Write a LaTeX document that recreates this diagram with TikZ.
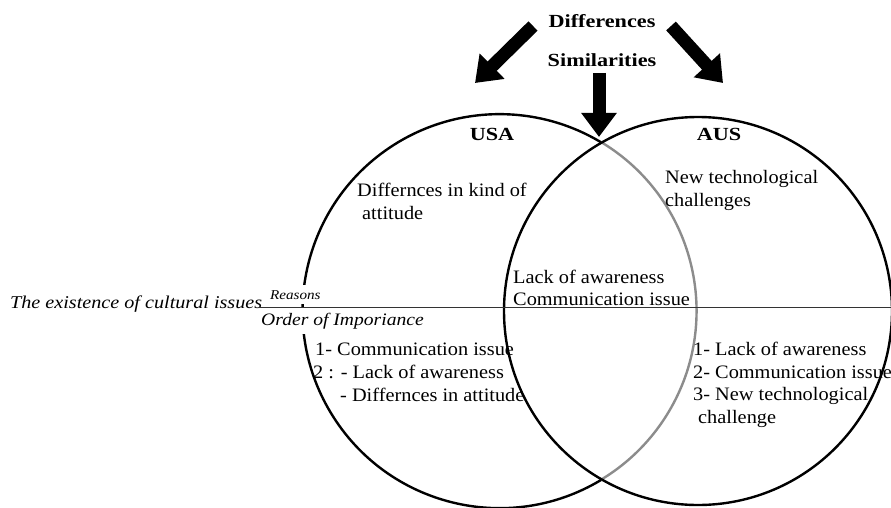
\documentclass[tikz,border=0pt]{standalone}
\usepackage{fontspec}
\setmainfont{Liberation Serif}[FakeStretch=1.07]
\newfontfamily\headfont{Liberation Serif}[FakeStretch=1.2]
\newfontfamily\notefont{Liberation Serif}[FakeStretch=1.12]
\usetikzlibrary{arrows.meta}

\begin{document}
\begin{tikzpicture}[x=1pt,y=-1pt,
  ring/.style={line width=2.4pt},
  fatarrow/.style={line width=13pt,-{Triangle[length=24pt,width=34pt]}},
  head/.style={font=\headfont\bfseries\fontsize{18.5}{20}\selectfont, inner sep=0pt, anchor=base},
  body/.style={font=\fontsize{19}{22}\selectfont, inner sep=0pt, anchor=base west},
  note/.style={font=\notefont\itshape\fontsize{18}{20}\selectfont, inner sep=0pt, anchor=base west},
  mask/.style={fill=white, inner xsep=1pt, inner ysep=5pt}]

% canvas
\useasboundingbox[fill=white] (0,0) rectangle (891,508);

% the two sets: the USA circle is grey where it runs inside the AUS circle
\draw[ring] (601,480) arc[start angle=59, end angle=301, radius=197];
\draw[ring, draw=black!45] (601,142) arc[start angle=-59, end angle=59, radius=197];
\draw[ring] (698,311) circle[radius=194];

% labels of the dividing line (white behind them)
\node[note, mask, font=\notefont\itshape\fontsize{13.5}{15}\selectfont] (reasons) at (269,299) {Reasons};
\node[note, mask, font=\notefont\itshape\fontsize{17.5}{20}\selectfont] (order) at (260,325) {Order of Imporiance};
\node[note] (exist) at (10,308) {The existence of cultural issues};

% dividing line
\coordinate (lineA) at (260,307);
\coordinate (lineB) at (891,307);
\draw[line width=1pt, black!80] (lineA) -- (lineB);

% headings
\node[head] (diff) at (602,28) {Differences};
\node[head] (sim) at (602,67) {Similarities};
\node[head] (usa) at (492,140) {USA};
\node[head] (aus) at (719,140) {AUS};

% USA only
\node[body] (u1) at (357,196) {Differnces in kind of};
\node[body] (u2) at (362,219) {attitude};

% AUS only
\node[body] (a1) at (665,183) {New technological};
\node[body] (a2) at (665,206) {challenges};

% shared
\node[body] (s1) at (513,283) {Lack of awareness};
\node[body] (s2) at (513,305) {Communication issue};

% ranking, USA
\node[body] (ul1) at (315,355) {1- Communication issue};
\node[body] (ul2) at (313,378) {2 : - Lack of awareness};
\node[body] (ul3) at (340,401) {- Differnces in attitude};

% ranking, AUS
\node[body] (al1) at (693,355) {1- Lack of awareness};
\node[body] (al2) at (693,378) {2- Communication issue};
\node[body] (al3) at (693,400) {3- New technological};
\node[body] (al4) at (698,423) {challenge};

% block arrows
\coordinate (arL0) at (533,26);
\coordinate (arL1) at (475,83);
\coordinate (arR0) at (671,26);
\coordinate (arR1) at (723,83);
\coordinate (arM0) at (599,73);
\coordinate (arM1) at (599,137);
\draw[fatarrow] (arL0) -- (arL1);
\draw[fatarrow] (arR0) -- (arR1);
\draw[fatarrow] (arM0) -- (arM1);
\end{tikzpicture}
\end{document}
